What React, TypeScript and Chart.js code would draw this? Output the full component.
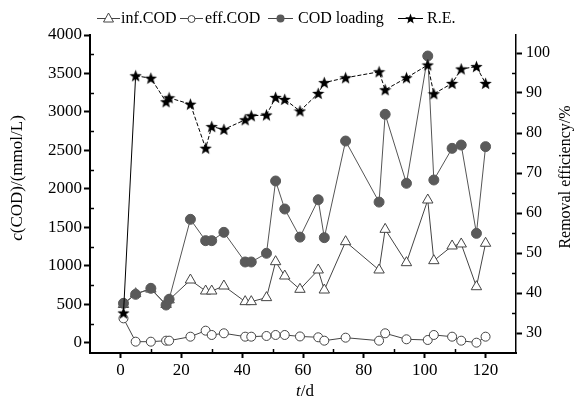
import React, { useEffect, useRef } from 'react';
import { Chart, registerables } from 'chart.js';
Chart.register(...registerables);

const days = [1, 5, 10, 15, 16, 23, 28, 30, 34, 41, 43, 48, 51, 54, 59, 65, 67, 74, 85, 87, 94, 101, 103, 109, 112, 117, 120];
const infCOD = [500, 640, 700, 500, 560, 818, 675, 675, 740, 537, 537, 589, 1056, 870, 697, 948, 688, 1316, 948, 1476, 1043, 1857, 1069, 1260, 1286, 731, 1295];
const effCOD = [320, 17, 17, 30, 30, 82, 160, 104, 126, 82, 82, 91, 104, 104, 85, 74, 30, 69, 30, 126, 48, 39, 104, 82, 30, 4, 82];
const codLoading = [515, 632, 710, 493, 567, 1606, 1329, 1329, 1437, 1052, 1052, 1165, 2104, 1740, 1375, 1860, 1368, 2623, 1830, 2970, 2074, 3727, 2117, 2528, 2571, 1424, 2550];
const removalEff = [35, 94.3, 93.7, 87.8, 88.8, 87.2, 76.2, 81.6, 80.9, 83.3, 84.3, 84.5, 88.9, 88.4, 85.5, 89.9, 92.6, 93.8, 95.3, 90.8, 93.8, 97, 89.8, 92.4, 96, 96.6, 92.4];

const leftTicks = [0, 500, 1000, 1500, 2000, 2500, 3000, 3500, 4000];
const rightTicks = [30, 40, 50, 60, 70, 80, 90, 100];
const xTicks = [0, 20, 40, 60, 80, 100, 120];
const legendLabels = ['inf.COD', 'eff.COD', 'COD loading', 'R.E.'];

const FONT = '"Liberation Serif", "DejaVu Serif", serif';

function makeStar(size: number, color: string): HTMLCanvasElement {
  const c = document.createElement('canvas');
  c.width = size;
  c.height = size;
  const g = c.getContext('2d')!;
  const cx = size / 2, cy = size / 2 + 0.5;
  const ro = size / 2, ri = ro * 0.42;
  g.beginPath();
  for (let i = 0; i < 10; i++) {
    const r = i % 2 === 0 ? ro : ri;
    const a = -Math.PI / 2 + (i * Math.PI) / 5;
    const px = cx + r * Math.cos(a), py = cy + r * Math.sin(a);
    if (i === 0) g.moveTo(px, py); else g.lineTo(px, py);
  }
  g.closePath();
  g.fillStyle = color;
  g.fill();
  return c;
}

const decorPlugin = {
  id: 'decor',
  afterDraw(chart: any) {
    const ctx = chart.ctx as CanvasRenderingContext2D;
    const xs = chart.scales.x, ys = chart.scales.y, y1 = chart.scales.y1;
    const area = chart.chartArea;
    ctx.save();
    ctx.strokeStyle = '#000';
    ctx.lineWidth = 1.5;
    // minor ticks (inward)
    for (let v = 250; v < 4000; v += 500) {
      const py = Math.round(ys.getPixelForValue(v)) + 0.5;
      ctx.beginPath(); ctx.moveTo(area.left, py); ctx.lineTo(area.left + 4, py); ctx.stroke();
    }
    for (let v = 35; v < 104; v += 10) {
      const py = Math.round(y1.getPixelForValue(v)) + 0.5;
      ctx.beginPath(); ctx.moveTo(area.right, py); ctx.lineTo(area.right - 4, py); ctx.stroke();
    }
    for (let v = 10; v < 130; v += 20) {
      const px = Math.round(xs.getPixelForValue(v)) + 0.5;
      ctx.beginPath(); ctx.moveTo(px, area.bottom); ctx.lineTo(px, area.bottom - 4); ctx.stroke();
    }

    // axis titles
    ctx.fillStyle = '#000';
    ctx.textBaseline = 'middle';
    const drawMixed = (parts: [string, boolean][], cx: number, cy: number, rot: number, size: number) => {
      ctx.save();
      ctx.translate(cx, cy);
      ctx.rotate(rot);
      let total = 0;
      const widths = parts.map(([t, it]) => {
        ctx.font = `${it ? 'italic ' : ''}${size}px ${FONT}`;
        const w = ctx.measureText(t).width;
        total += w;
        return w;
      });
      let x0 = -total / 2;
      ctx.textAlign = 'left';
      parts.forEach(([t, it], i) => {
        ctx.font = `${it ? 'italic ' : ''}${size}px ${FONT}`;
        ctx.fillText(t, x0, 0);
        x0 += widths[i];
      });
      ctx.restore();
    };
    drawMixed([['c', true], ['(COD)/(mmol/L)', false]], 18, 178, -Math.PI / 2, 17);
    drawMixed([['Removal efficiency/%', false]], 566, 177, -Math.PI / 2, 16);
    drawMixed([['t', true], ['/d', false]], 305, 392, 0, 17);

    // legend
    const ly = 18;
    const items = [
      { x0: 97, x1: 120, tx: 121, type: 'tri' },
      { x0: 180, x1: 203, tx: 205, type: 'circ' },
      { x0: 268, x1: 293, tx: 298, type: 'dot' },
      { x0: 398, x1: 423, tx: 427, type: 'star' },
    ];
    items.forEach((it, i) => {
      ctx.lineWidth = 1;
      ctx.strokeStyle = it.type === 'star' ? '#000' : '#444';
      ctx.beginPath(); ctx.moveTo(it.x0, ly + 0.5); ctx.lineTo(it.x1, ly + 0.5); ctx.stroke();
      const mx = (it.x0 + it.x1) / 2;
      if (it.type === 'tri') {
        ctx.beginPath();
        ctx.moveTo(mx, ly - 5); ctx.lineTo(mx + 5, ly + 4); ctx.lineTo(mx - 5, ly + 4); ctx.closePath();
        ctx.fillStyle = '#fff'; ctx.fill(); ctx.stroke();
      } else if (it.type === 'circ') {
        ctx.beginPath(); ctx.arc(mx, ly + 1, 3.5, 0, Math.PI * 2);
        ctx.fillStyle = '#fff'; ctx.fill(); ctx.stroke();
      } else if (it.type === 'dot') {
        ctx.beginPath(); ctx.arc(mx, ly + 0.5, 4, 0, Math.PI * 2);
        ctx.fillStyle = '#5a5a5a'; ctx.fill();
      } else {
        const s = makeStar(11, '#000');
        ctx.drawImage(s, mx - 5.5, ly - 5);
      }
      ctx.fillStyle = '#000';
      ctx.font = `16px ${FONT}`;
      ctx.textAlign = 'left';
      ctx.textBaseline = 'middle';
      ctx.fillText(legendLabels[i], it.tx, ly + 1);
    });
    ctx.restore();
  },
};

export default function App() {
  const ref = useRef<HTMLCanvasElement | null>(null);
  useEffect(() => {
    if (!ref.current) return;
    const star = makeStar(13, '#000');
    const pts = (arr: number[]) => days.map((d, i) => ({ x: d, y: arr[i] }));
    const tickFont = { family: FONT, size: 17 };
    const plain = (v: any) => String(v);
    const chart = new Chart(ref.current, {
      type: 'line',
      data: {
        datasets: [
          {
            label: legendLabels[0], data: pts(infCOD), yAxisID: 'y', order: 2,
            borderColor: '#444', borderWidth: 1, pointStyle: 'triangle', pointRadius: 6,
            pointBackgroundColor: '#fff', pointBorderColor: '#444', pointBorderWidth: 1,
          },
          {
            label: legendLabels[1], data: pts(effCOD), yAxisID: 'y', order: 3,
            borderColor: '#444', borderWidth: 1, pointStyle: 'circle', pointRadius: 4.5,
            pointBackgroundColor: '#fff', pointBorderColor: '#444', pointBorderWidth: 1,
          },
          {
            label: legendLabels[2], data: pts(codLoading), yAxisID: 'y', order: 1,
            borderColor: '#555', borderWidth: 1, pointStyle: 'circle', pointRadius: 5,
            pointBackgroundColor: '#5a5a5a', pointBorderColor: '#5a5a5a', pointBorderWidth: 1,
          },
          {
            label: legendLabels[3], data: pts(removalEff), yAxisID: 'y1', order: 0,
            borderColor: '#000', borderWidth: 1, pointStyle: star as any, pointRadius: 6,
            segment: { borderDash: (c: any) => (c.p0DataIndex === 0 ? [] : [4, 2]) },
          },
        ] as any,
      },
      options: {
        animation: false,
        responsive: false,
        devicePixelRatio: 1,
        layout: { padding: { top: 35, left: 0, right: 0, bottom: 0 } },
        plugins: { legend: { display: false }, tooltip: { enabled: false } },
        scales: {
          x: {
            type: 'linear', min: -10, max: 130,
            afterFit: (s: any) => { s.height = 49; },
            afterBuildTicks: (s: any) => { s.ticks = xTicks.map((v) => ({ value: v })); },
            ticks: { font: tickFont, color: '#000', padding: 2, maxRotation: 0, autoSkip: false, callback: plain },
            grid: { drawOnChartArea: false, drawTicks: true, tickLength: 5, tickWidth: 2, tickColor: '#000' },
            border: { display: true, color: '#000', width: 2 },
          },
          y: {
            type: 'linear', position: 'left', min: -130, max: 4000,
            afterFit: (s: any) => { s.width = 90; },
            afterBuildTicks: (s: any) => { s.ticks = leftTicks.map((v) => ({ value: v })); },
            ticks: { font: tickFont, color: '#000', padding: 2, callback: plain },
            grid: { drawOnChartArea: false, drawTicks: true, tickLength: 6, tickWidth: 2, tickColor: '#000' },
            border: { display: true, color: '#000', width: 2 },
          },
          y1: {
            type: 'linear', position: 'right', min: 25, max: 104.5,
            afterFit: (s: any) => { s.width = 60; },
            afterBuildTicks: (s: any) => { s.ticks = rightTicks.map((v) => ({ value: v })); },
            ticks: { font: { family: FONT, size: 16 }, color: '#000', padding: 4, callback: plain },
            grid: { drawOnChartArea: false, drawTicks: true, tickLength: 6, tickWidth: 2, tickColor: '#000' },
            border: { display: true, color: '#000', width: 1.5 },
          },
        },
      } as any,
      plugins: [decorPlugin],
    });
    return () => chart.destroy();
  }, []);
  return (
    <div style={{ position: 'absolute', left: 0, top: 0, width: 576, height: 402, background: '#fff' }}>
      <canvas ref={ref} width={576} height={402} />
    </div>
  );
}
